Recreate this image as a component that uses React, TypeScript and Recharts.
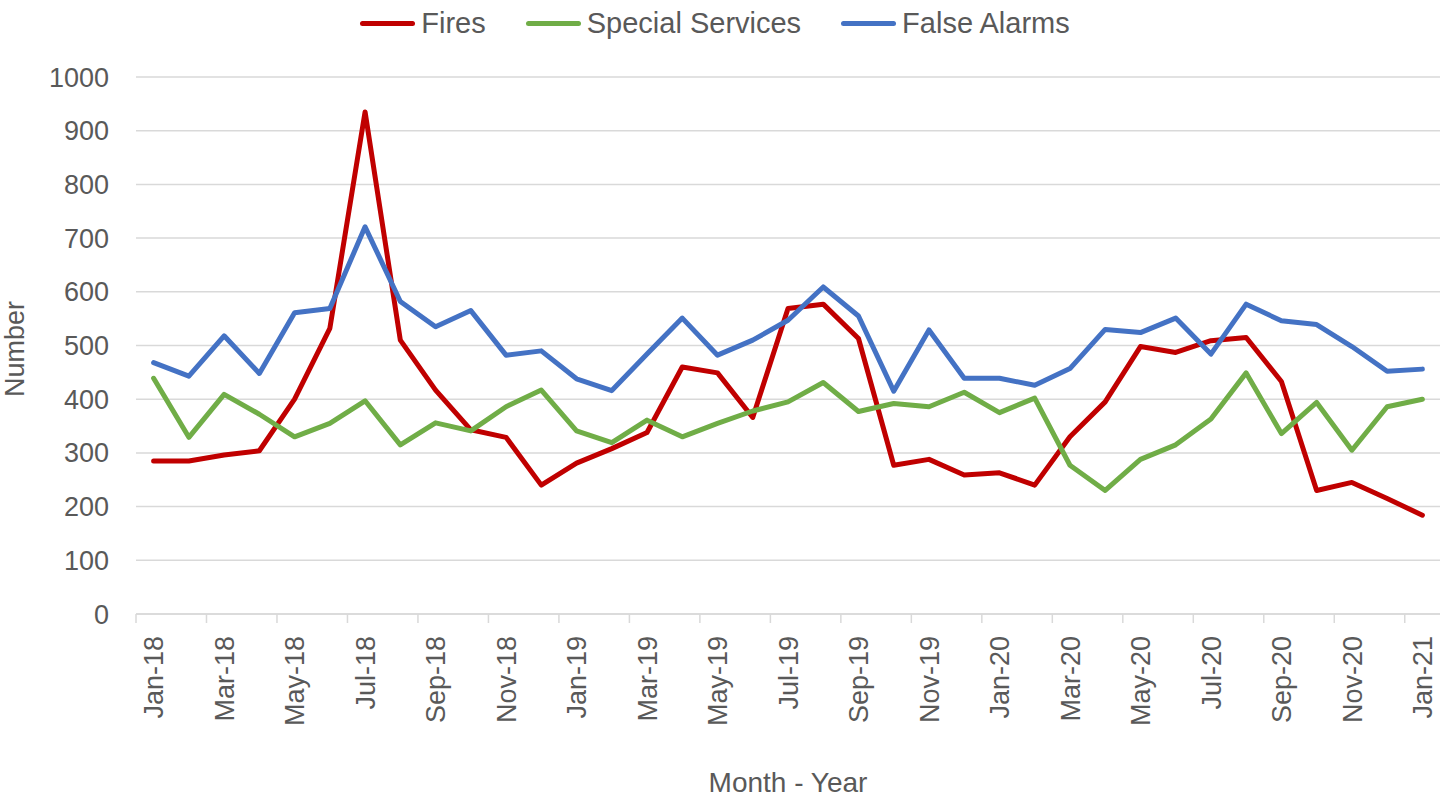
import React from 'react';
import { LineChart, Line, XAxis, YAxis, CartesianGrid, Legend } from 'recharts';

const months = [
  'Jan-18', 'Feb-18', 'Mar-18', 'Apr-18', 'May-18', 'Jun-18', 'Jul-18', 'Aug-18', 'Sep-18', 'Oct-18', 'Nov-18', 'Dec-18',
  'Jan-19', 'Feb-19', 'Mar-19', 'Apr-19', 'May-19', 'Jun-19', 'Jul-19', 'Aug-19', 'Sep-19', 'Oct-19', 'Nov-19', 'Dec-19',
  'Jan-20', 'Feb-20', 'Mar-20', 'Apr-20', 'May-20', 'Jun-20', 'Jul-20', 'Aug-20', 'Sep-20', 'Oct-20', 'Nov-20', 'Dec-20',
  'Jan-21',
];

const fires = [
  285, 285, 296, 304, 400, 532, 935, 510, 417, 343, 329, 240,
  281, 308, 338, 460, 449, 366, 569, 577, 513, 277, 288, 259,
  263, 240, 330, 395, 498, 487, 509, 515, 433, 230, 245, 215,
  184,
];

const specialServices = [
  439, 329, 409, 372, 330, 355, 397, 315, 356, 341, 386, 417,
  341, 319, 361, 330, 355, 378, 395, 431, 377, 392, 386, 413,
  375, 402, 277, 230, 288, 315, 363, 449, 336, 394, 305, 386,
  400,
];

const falseAlarms = [
  468, 443, 518, 448, 561, 569, 721, 582, 535, 565, 482, 490,
  438, 416, 484, 551, 482, 510, 547, 609, 555, 415, 529, 439,
  439, 426, 457, 530, 524, 551, 484, 577, 546, 539, 498, 452,
  456,
];

const yTicks = [0, 100, 200, 300, 400, 500, 600, 700, 800, 900, 1000];

const series = [
  { key: 'fires', name: 'Fires', color: '#C00000' },
  { key: 'special', name: 'Special Services', color: '#70AD47' },
  { key: 'falseAlarms', name: 'False Alarms', color: '#4472C4' },
];

const data = months.map((month, i) => ({
  month,
  fires: fires[i],
  special: specialServices[i],
  falseAlarms: falseAlarms[i],
}));

const FONT = '"Liberation Sans", Arial, sans-serif';
const TEXT = '#595959';
const GRID = '#d9d9d9';
const HALF_STEP = 1304 / 37 / 2;

// tick marks sit between categories (every 2nd), labels on the category
const MonthTick = (props: any) => {
  const { x, y, payload } = props;
  return (
    <g>
      <line x1={x - HALF_STEP} y1={y} x2={x - HALF_STEP} y2={y + 9} stroke={GRID} strokeWidth={1.5} />
      <text
        x={x}
        y={y + 22}
        transform={`rotate(-90, ${x}, ${y + 22})`}
        textAnchor="end"
        dy="0.36em"
        fill={TEXT}
        fontSize={27}
        fontFamily={FONT}
      >
        {payload.value}
      </text>
    </g>
  );
};

const YTitle = () => (
  <text
    x={24}
    y={349}
    transform="rotate(-90, 24, 349)"
    textAnchor="middle"
    fill={TEXT}
    fontSize={27}
    fontFamily={FONT}
  >
    Number
  </text>
);

const LegendContent = () => (
  <div style={{ display: 'flex', justifyContent: 'center', alignItems: 'center', gap: 40, height: 30, paddingRight: 16, fontFamily: FONT, fontSize: 29, color: TEXT }}>
    {series.map(s => (
      <div key={s.key} style={{ display: 'flex', alignItems: 'center' }}>
        <div style={{ width: 55, height: 5, borderRadius: 3, background: s.color, marginRight: 6 }} />
        <span>{s.name}</span>
      </div>
    ))}
  </div>
);

export default function App() {
  return (
    <div style={{ position: 'absolute', left: 0, top: 0, width: 1446, height: 798, fontFamily: FONT }}>
      <LineChart width={1446} height={798} data={data} margin={{ top: 77, right: 6, bottom: 0, left: 0 }}>
        <CartesianGrid vertical={false} stroke={GRID} strokeWidth={1.5} />
        <XAxis
          dataKey="month"
          interval={1}
          padding={{ left: HALF_STEP, right: HALF_STEP }}
          height={184}
          tickLine={false}
          tickSize={0}
          tickMargin={0}
          axisLine={{ stroke: GRID, strokeWidth: 1.5 }}
          tick={<MonthTick />}
          label={{ value: 'Month - Year', position: 'insideBottom', offset: 6, fill: TEXT, fontSize: 28, fontFamily: FONT }}
        />
        <YAxis
          width={136}
          domain={[0, 1000]}
          ticks={yTicks}
          interval={0}
          tickLine={false}
          axisLine={false}
          tickSize={0}
          tickMargin={27}
          tick={{ fill: TEXT, fontSize: 27, fontFamily: FONT }}
          label={<YTitle />}
        />
        <Legend verticalAlign="middle" align="center" wrapperStyle={{ top: 8, left: 0, width: 1446 }} content={<LegendContent />} />
        {series.map(s => (
          <Line
            key={s.key}
            type="linear"
            dataKey={s.key}
            name={s.name}
            stroke={s.color}
            strokeWidth={5}
            strokeLinejoin="round"
            strokeLinecap="round"
            dot={false}
            activeDot={false}
            isAnimationActive={false}
          />
        ))}
      </LineChart>
    </div>
  );
}
